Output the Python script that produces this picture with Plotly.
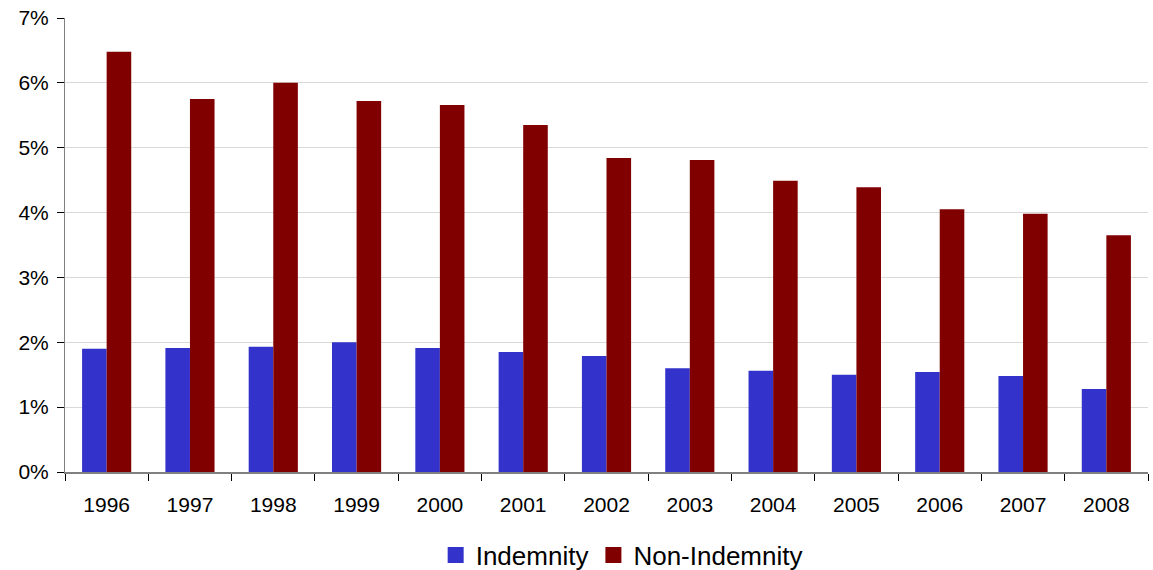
import plotly.graph_objects as go

years = ["1996", "1997", "1998", "1999", "2000", "2001", "2002",
         "2003", "2004", "2005", "2006", "2007", "2008"]
indemnity = [1.90, 1.91, 1.93, 2.00, 1.91, 1.85, 1.79, 1.60, 1.56, 1.50, 1.54, 1.48, 1.28]
non_indemnity = [6.48, 5.75, 6.00, 5.72, 5.66, 5.35, 4.84, 4.81, 4.49, 4.39, 4.05, 3.98, 3.65]

series = [("Indemnity", indemnity, "#3333CC"), ("Non-Indemnity", non_indemnity, "#800000")]

font = "Liberation Sans, Arial, sans-serif"

fig = go.Figure()
for name, vals, color in series:
    fig.add_trace(go.Bar(x=years, y=[v / 100 for v in vals], name=name, showlegend=False,
                         marker=dict(color=color, line=dict(width=0))))
# square swatches for the legend
for name, vals, color in series:
    fig.add_trace(go.Scatter(x=[None], y=[None], mode="markers", name=name,
                             marker=dict(symbol="square", size=18, color=color)))

fig.update_layout(
    width=1153, height=570,
    margin=dict(l=65, r=5, t=18, b=98, autoexpand=False),
    barmode="group", bargap=0.41, bargroupgap=0,
    plot_bgcolor="white", paper_bgcolor="white",
    font=dict(family=font, size=21, color="black"),
    showlegend=True,
    legend=dict(orientation="h", x=0.514, xanchor="center",
                y=-0.183, yanchor="middle", font=dict(size=26), traceorder="normal",
                itemwidth=30, tracegroupgap=0),
    xaxis=dict(showline=True, linecolor="#808080", linewidth=2,
               ticks="outside", tickson="boundaries", ticklen=7, tickcolor="#000000",
               showgrid=False, tickfont=dict(size=21), ticklabelstandoff=13),
    yaxis=dict(range=[0, 0.07], dtick=0.01, tickformat=".0%",
               showline=True, linecolor="#808080", linewidth=1,
               ticks="outside", ticklen=7, tickcolor="#000000",
               showgrid=True, gridcolor="#D9D9D9", gridwidth=1,
               zeroline=False, tickfont=dict(size=21), ticklabelstandoff=4),
)

fig.write_html("out.html")
